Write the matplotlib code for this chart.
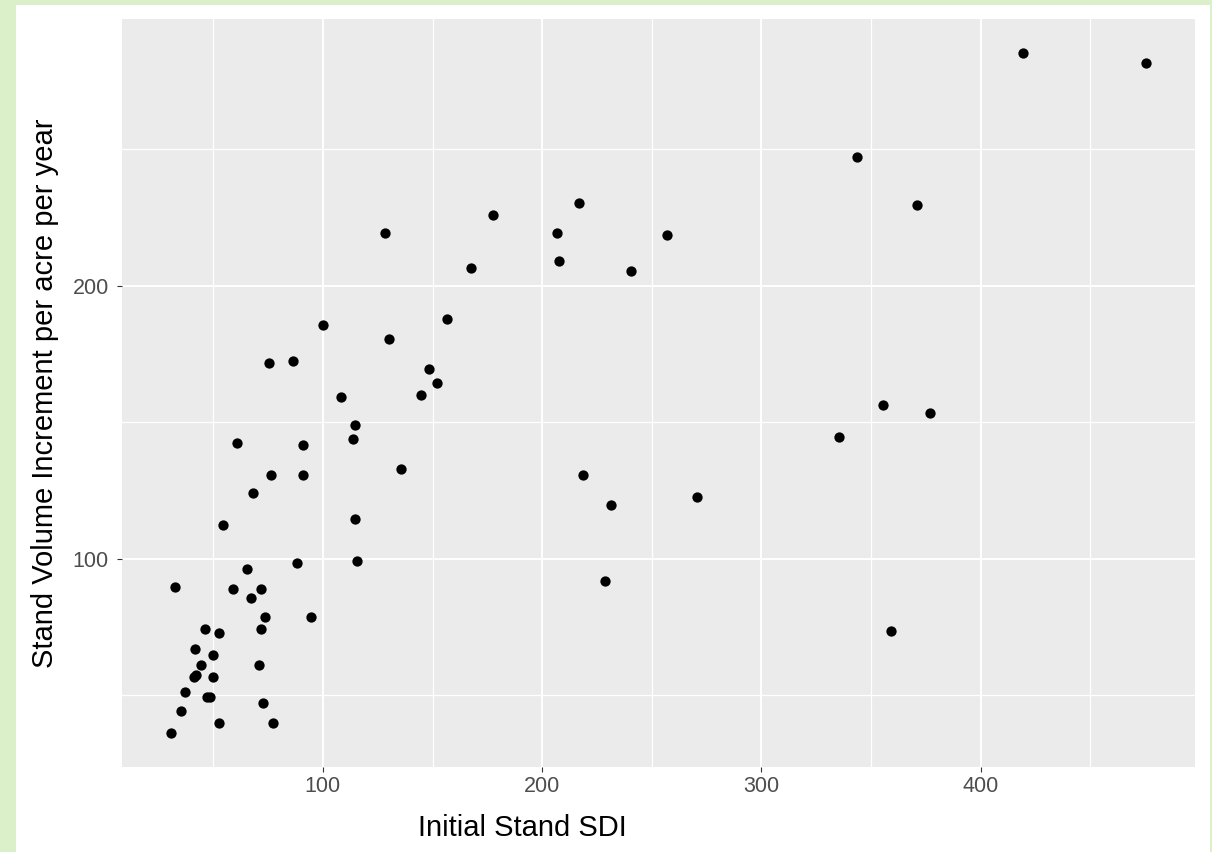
import matplotlib
matplotlib.use("Agg")
import matplotlib.pyplot as plt
from matplotlib.patches import Rectangle
from matplotlib.ticker import FixedLocator

plt.rcParams["font.family"] = ["Liberation Sans", "DejaVu Sans"]

# initial stand density index vs. yearly volume increment, one point per stand
sdi = [30.6, 35.2, 37.0, 41.7, 41.2, 42.1, 44.4, 46.4, 46.9, 48.3,
       49.9, 49.9, 52.6, 52.6, 32.4, 59.0, 65.4, 67.2, 71.9, 71.8,
       70.7, 72.7, 73.6, 77.2, 88.2, 94.5, 54.3, 60.8, 68.1, 75.3,
       76.3, 86.3, 90.9, 90.9, 100.0, 108.2, 113.7, 114.6, 114.6, 115.5,
       130.1, 128.2, 135.5, 144.6, 148.3, 151.8, 156.4, 167.6, 177.4, 206.6,
       207.5, 216.6, 218.5, 228.5, 231.2, 240.5, 256.7, 270.5, 335.2, 343.4,
       355.3, 358.9, 370.8, 377.1, 419.2, 475.5]
increment = [36.2, 44.1, 51.4, 67.0, 56.6, 57.4, 61.0, 74.3, 49.4, 49.4,
             64.6, 56.7, 72.8, 39.9, 89.6, 88.8, 96.2, 85.8, 88.8, 74.3,
             61.0, 47.1, 78.7, 39.9, 98.4, 78.7, 112.3, 142.4, 124.0, 171.7,
             130.6, 172.3, 141.7, 130.6, 185.6, 159.2, 143.8, 148.9, 114.5, 99.2,
             180.4, 219.3, 132.8, 160.0, 169.5, 164.4, 187.8, 206.7, 226.0, 219.3,
             209.0, 230.3, 130.7, 91.8, 119.6, 205.4, 218.5, 122.6, 144.5, 247.1,
             156.3, 73.5, 229.5, 153.4, 285.3, 281.6]

x_breaks = [100, 200, 300, 400]
y_breaks = [100, 200]

W, H = 1212, 852
fig = plt.figure(figsize=(W / 100, H / 100), dpi=100, facecolor="#dbefc8")
# white plot background inside the green page border
fig.patches.append(Rectangle((16 / W, 0), (1210 - 16) / W, (H - 5) / H,
                             transform=fig.transFigure, facecolor="white",
                             edgecolor="none", zorder=-5))

ax = fig.add_axes([122 / W, 1 - 767 / H, (1195 - 122) / W, (767 - 19) / H])
ax.set_zorder(2)
ax.set_facecolor("#EBEBEB")
for s in ax.spines.values():
    s.set_visible(False)

ax.scatter(sdi, increment, s=55, c="black", linewidths=0, zorder=3)

# ggplot-like limits: 5% padding on each side
xr = max(sdi) - min(sdi)
yr = max(increment) - min(increment)
ax.set_xlim(min(sdi) - 0.05 * xr, max(sdi) + 0.05 * xr)
ax.set_ylim(min(increment) - 0.05 * yr, max(increment) + 0.05 * yr)

ax.xaxis.set_major_locator(FixedLocator(x_breaks))
ax.yaxis.set_major_locator(FixedLocator(y_breaks))
ax.xaxis.set_minor_locator(FixedLocator([50, 150, 250, 350, 450]))
ax.yaxis.set_minor_locator(FixedLocator([50, 150, 250]))

ax.grid(which="major", color="white", linewidth=1.4)
ax.grid(which="minor", color="white", linewidth=0.9)
ax.set_axisbelow(True)

ax.tick_params(which="major", length=3.6, width=0.8, color="#333333",
               labelsize=15.5, labelcolor="#4D4D4D", pad=3)
ax.tick_params(axis="y", which="major", pad=6)
ax.tick_params(which="minor", length=0)

ax.set_xlabel("Initial Stand SDI", fontsize=21, color="black")
ax.set_ylabel("Stand Volume Increment per acre per year", fontsize=21, color="black")
ax.xaxis.set_label_coords((522 - 122) / (1195 - 122), -(828 - 767) / (767 - 19), transform=ax.transAxes)
ax.xaxis.label.set_va("center")
ax.yaxis.set_label_coords(-(122 - 45) / (1195 - 122), 0.5)
ax.yaxis.label.set_va("center")

fig.savefig("out.png", dpi=100, facecolor=fig.get_facecolor())
